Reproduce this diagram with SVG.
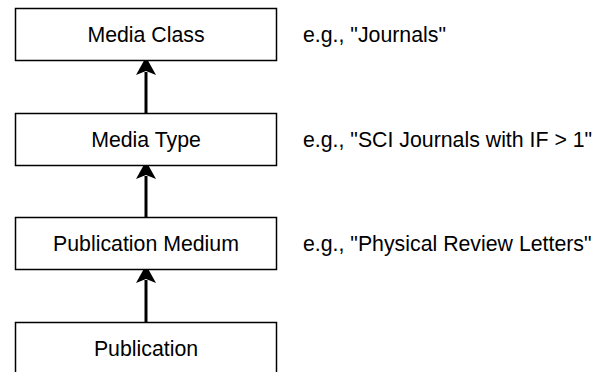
<svg xmlns="http://www.w3.org/2000/svg" width="612" height="372" viewBox="0 0 612 372">
<style>
.box{fill:#fff;stroke:#000;stroke-width:1.5}
.lbl{font-family:"Liberation Sans",Arial,sans-serif;font-size:21.3px;fill:#000}
.c{text-anchor:middle}
.edge{stroke:#000;stroke-width:3;fill:none}
.head{fill:#000;stroke:none}
</style>
<rect width="612" height="372" fill="#fff"/>
<g id="connectors">
<line class="edge" x1="146" y1="113.5" x2="146" y2="72"/>
<path class="head" d="M146,57 L156,75 L146,71 L136,75 Z"/>
<line class="edge" x1="146" y1="217.5" x2="146" y2="176"/>
<path class="head" d="M146,161 L156,179 L146,175 L136,179 Z"/>
<line class="edge" x1="146" y1="322.5" x2="146" y2="280"/>
<path class="head" d="M146,265 L156,283 L146,279 L136,283 Z"/>
</g>
<g id="media-class">
<rect class="box" x="15.5" y="8.5" width="261" height="52"/>
<text class="lbl c" x="146" y="42">Media Class</text>
</g>
<g id="media-type">
<rect class="box" x="15.5" y="113.5" width="261" height="52"/>
<text class="lbl c" x="146" y="147">Media Type</text>
</g>
<g id="publication-medium">
<rect class="box" x="15.5" y="217.5" width="261" height="52"/>
<text class="lbl c" x="146" y="251">Publication Medium</text>
</g>
<g id="publication">
<rect class="box" x="15.5" y="322.5" width="261" height="52"/>
<text class="lbl c" x="146" y="356">Publication</text>
</g>
<g id="examples">
<text class="lbl" x="303" y="42">e.g., "Journals"</text>
<text class="lbl" x="303" y="147">e.g., "SCI Journals with IF &gt; 1"</text>
<text class="lbl" x="303" y="251">e.g., "Physical Review Letters"</text>
</g>
</svg>
